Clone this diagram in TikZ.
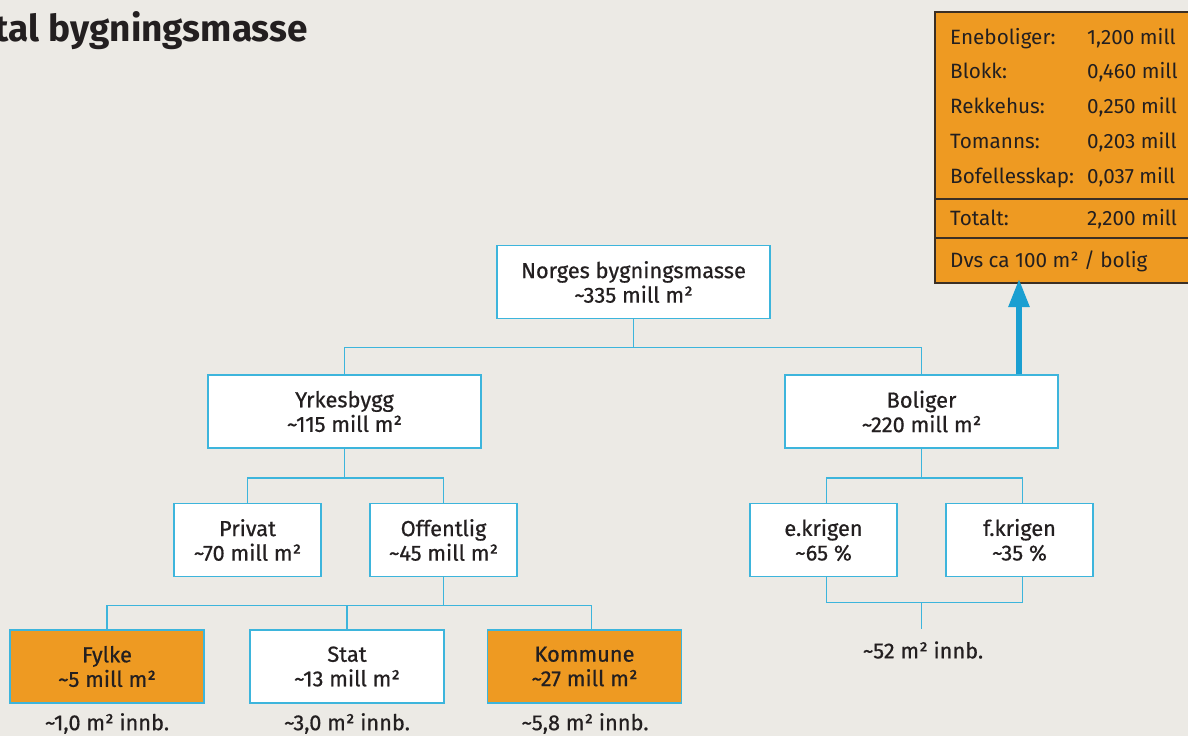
\documentclass[tikz,border=0pt]{standalone}
\usepackage{fontspec}
\setmainfont{Fira Sans}
\newfontfamily\medfont{Fira Sans}[FakeBold=0.6]
\usetikzlibrary{calc,arrows.meta}
\definecolor{bg}{HTML}{ECEAE5}
\definecolor{lblue}{HTML}{3DB5DC}
\definecolor{ablue}{HTML}{1A9FD1}
\definecolor{orng}{HTML}{EE9A22}
\definecolor{txt}{HTML}{231F20}
\definecolor{dbrown}{HTML}{3B2F24}
\newcommand\tld{\textasciitilde}
\tikzset{
  box/.style={draw=lblue, line width=1.6pt, fill=white, minimum width=273pt, minimum height=73pt,
    align=center, font=\medfont\fontsize{21.8}{24.5}\selectfont, text=txt, inner sep=0pt},
  sbox/.style={box, minimum width=147pt},
  mbox/.style={box, minimum width=194pt},
  obox/.style={mbox, fill=orng},
  conn/.style={draw=lblue, line width=1.6pt},
  lbl/.style={font=\medfont\fontsize{21.8}{24}\selectfont, text=txt, inner sep=0pt},
  tlbl/.style={font=\fontsize{20.7}{23}\selectfont, text=txt, inner sep=0pt, anchor=base west},
}
\begin{document}
\begin{tikzpicture}[x=1pt,y=-1pt]
\fill[bg] (0,0) rectangle (1188,736);
\useasboundingbox (0,0) rectangle (1188,736);

% title
\node[anchor=base east, font=\fontsize{37}{42}\selectfont\bfseries, text=txt, inner sep=0pt] (title) at (308,41) {tal bygningsmasse};

% table
\node[draw=dbrown, line width=2pt, fill=orng, minimum width=260pt, minimum height=271pt, inner sep=0pt] (tbl) at (1065,147.5) {};
\draw[dbrown, line width=1.5pt] (935,199) -- (1190,199);
\draw[dbrown, line width=1.5pt] (935,238) -- (1190,238);
\node[tlbl] (t1a) at (950,44) {Eneboliger:};
\node[tlbl] (t1b) at (1087,44) {1,200 mill};
\node[tlbl] (t2a) at (950,78.5) {Blokk:};
\node[tlbl] (t2b) at (1087,78.5) {0,460 mill};
\node[tlbl] (t3a) at (950,113) {Rekkehus:};
\node[tlbl] (t3b) at (1087,113) {0,250 mill};
\node[tlbl] (t4a) at (950,148) {Tomanns:};
\node[tlbl] (t4b) at (1087,148) {0,203 mill};
\node[tlbl] (t5a) at (950,183) {Bofellesskap:};
\node[tlbl] (t5b) at (1087,183) {0,037 mill};
\node[tlbl] (t6a) at (950,225) {Totalt:};
\node[tlbl] (t6b) at (1087,225) {2,200 mill};
\node[tlbl] (t7a) at (950,267) {Dvs ca 100 m² / bolig};

% nodes
\node[box] (norges) at (633.5,282) {Norges bygningsmasse\\\tld335 mill m²};
\node[box] (yrkes) at (344.5,411.5) {Yrkesbygg\\\tld115 mill m²};
\node[box] (bolig) at (921.5,411.5) {Boliger\\\tld220 mill m²};
\node[sbox] (privat) at (247.5,540) {Privat\\\tld70 mill m²};
\node[sbox] (offentlig) at (443.5,540) {Offentlig\\\tld45 mill m²};
\node[sbox] (ekrig) at (823.5,540) {e.krigen\\\tld65 \%};
\node[sbox] (fkrig) at (1019.5,540) {f.krigen\\\tld35 \%};
\node[obox] (fylke) at (107,666.5) {Fylke\\\tld5 mill m²};
\node[mbox] (stat) at (347,666.5) {Stat\\\tld13 mill m²};
\node[obox] (kommune) at (584.5,666.5) {Kommune\\\tld27 mill m²};

% labels
\node[lbl] (l52) at (923,650) {\tld52 m² innb.};
\node[lbl] (lf) at (107,723.5) {\tld1,0 m² innb.};
\node[lbl] (ls) at (347,723.5) {\tld3,0 m² innb.};
\node[lbl] (lk) at (585,723.5) {\tld5,8 m² innb.};

% connectors
\draw[conn] (norges.south) -- ++(0,28) -| (yrkes.north);
\draw[conn] (norges.south) -- ++(0,28) -| (bolig.north);
\draw[conn] (yrkes.south) -- ++(0,29) -| (privat.north);
\draw[conn] (yrkes.south) -- ++(0,29) -| (offentlig.north);
\draw[conn] (bolig.south) -- ++(0,29) -| ([xshift=3pt]ekrig.north);
\draw[conn] (bolig.south) -- ++(0,29) -| ([xshift=3pt]fkrig.north);
\draw[conn] (offentlig.south) -- ++(0,28) -| (fylke.north);
\draw[conn] (offentlig.south) -- ++(0,28) -| (stat.north);
\draw[conn] (offentlig.south) -- ++(0,28) -| ([xshift=7pt]kommune.north);
\draw[conn] ([xshift=3pt]ekrig.south) -- ++(0,25) -| ([xshift=3pt]fkrig.south);
\draw[conn] ($(ekrig.south)!0.5!(fkrig.south)+(0,25)$) -- ($(ekrig.south)!0.5!(fkrig.south)+(0,52)$);

% arrow
\draw[draw=ablue, line width=5.5pt, -{Triangle[length=28pt,width=20pt]}] (bolig.north -| 1019,0) -- ([yshift=5pt]tbl.south -| 1019,0);
\end{tikzpicture}
\end{document}
